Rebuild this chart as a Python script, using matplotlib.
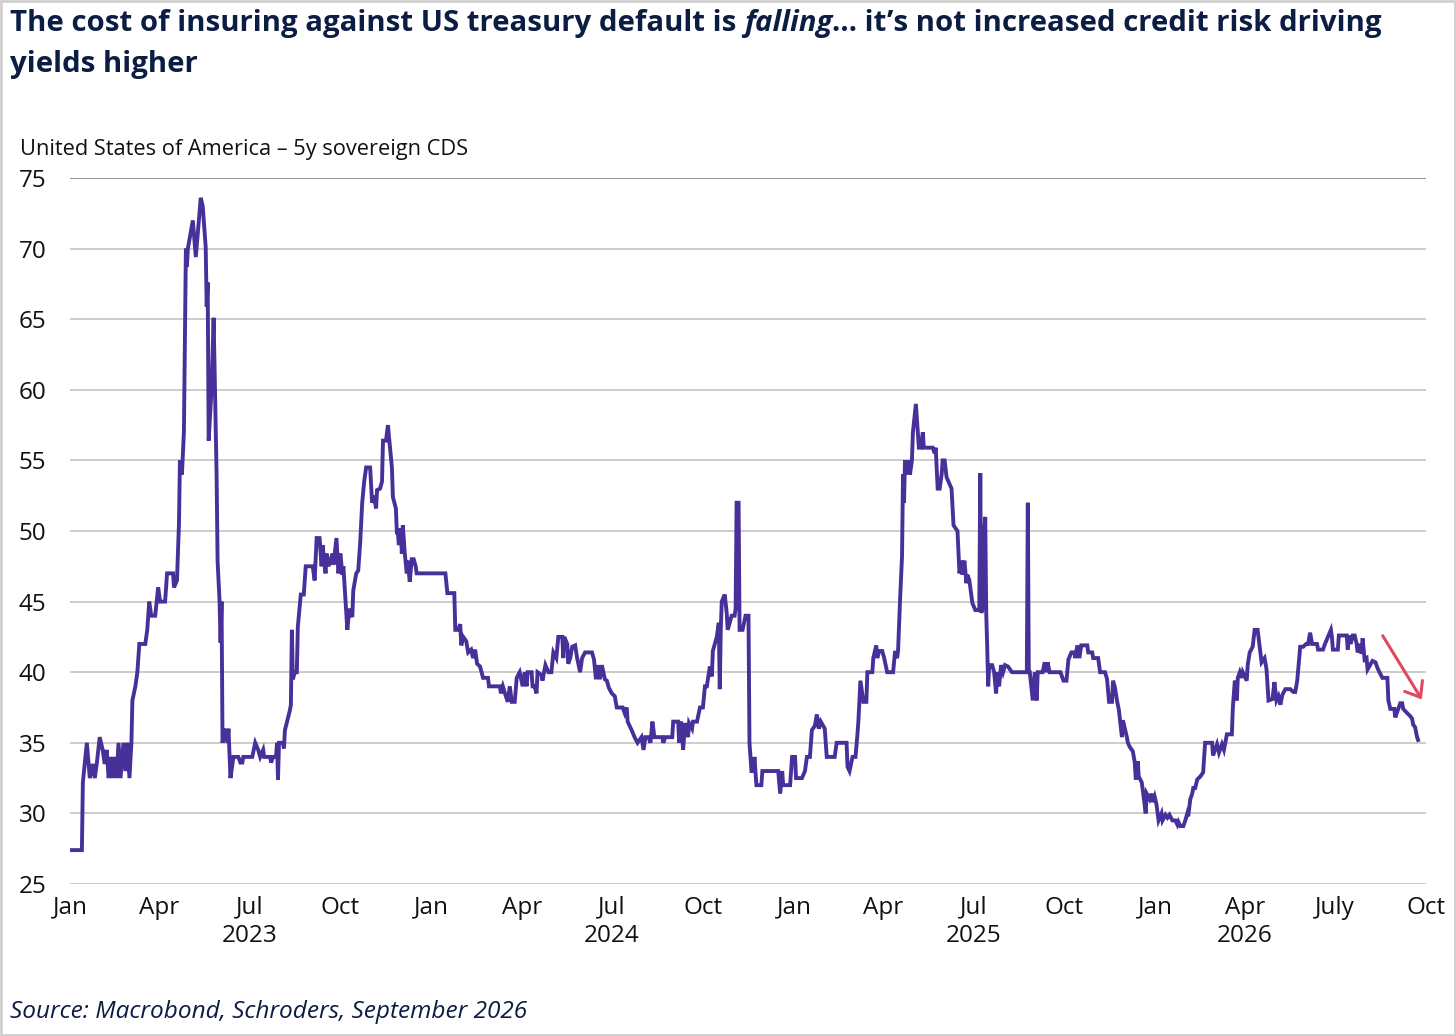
import matplotlib
matplotlib.use("Agg")
import matplotlib.pyplot as plt
import matplotlib.dates as mdates
from matplotlib.patches import Rectangle
import pandas as pd

# ---------------- data ----------------
START_DATE = "2023-01-01"
END_DATE = "2026-10-01"

# days since START_DATE, CDS level (bp)
days_2023 = [0, 12, 13, 17, 20, 23, 25, 27, 30, 33, 35, 37, 39, 41, 43, 45, 47, 49, 51, 54,
             56, 58, 60, 62, 63, 66, 68, 70, 76, 78, 80, 82, 86, 89, 91, 96, 98, 104, 105, 108,
             110, 111, 113, 115, 117, 118, 119, 124, 127, 132, 134, 137, 138, 139, 140, 143, 145, 148, 149, 151,
             152, 153, 154, 156, 159, 160, 162, 165, 170, 172, 174, 175, 184, 187, 190, 192, 195, 196, 202, 203,
             205, 208, 209, 210, 211, 215, 216, 217, 222, 223, 224, 225, 227, 229, 230, 233, 236, 238, 245, 247,
             249, 252, 254, 255, 258, 259, 261, 265, 266, 269, 271, 273, 275, 276, 278, 280, 282, 285, 286, 289,
             291, 293, 295, 297, 299, 303, 305, 307, 309, 310, 313, 315, 316, 319, 321, 322, 325, 326, 329, 330,
             331, 332, 334, 335, 336, 338, 340, 341, 343, 345, 347, 349, 350]
cds_2023 = [27.4, 27.4, 32.2, 35.0, 32.5, 33.5, 32.5, 33.5, 35.4, 34.5, 33.5, 34.5, 32.5, 34.0, 32.5, 34.0, 32.5, 35.0, 32.5, 35.0,
            33.0, 35.0, 32.5, 35.0, 38.0, 39.0, 40.0, 42.0, 42.0, 43.0, 45.0, 44.0, 44.0, 46.0, 45.0, 45.0, 47.0, 47.0, 46.0, 46.5,
            50.5, 55.0, 54.0, 57.0, 70.0, 68.7, 70.0, 72.0, 69.4, 73.6, 73.0, 70.1, 65.9, 67.6, 56.4, 60.2, 65.1, 54.0, 47.9, 45.0,
            42.1, 45.0, 35.0, 36.0, 35.0, 36.0, 32.5, 34.0, 34.0, 33.6, 33.6, 34.0, 34.0, 35.0, 34.5, 34.0, 34.5, 34.0, 34.0, 33.6,
            34.0, 34.0, 35.0, 32.4, 35.0, 35.0, 34.6, 35.9, 37.3, 37.7, 43.0, 39.5, 40.0, 40.0, 43.2, 45.5, 45.5, 47.5, 47.5, 46.5,
            49.5, 49.5, 47.5, 49.0, 47.0, 48.4, 47.5, 48.4, 47.6, 49.5, 47.0, 48.4, 46.9, 47.5, 45.3, 43.0, 44.5, 43.9, 45.8, 47.0,
            47.2, 49.2, 52.0, 53.5, 54.5, 54.5, 52.0, 52.5, 51.6, 52.9, 53.0, 53.5, 56.4, 56.4, 57.5, 56.7, 54.5, 52.4, 51.6, 49.9,
            49.9, 49.0, 50.2, 48.4, 50.4, 48.4, 47.0, 47.9, 46.4, 48.0, 48.0, 47.5, 47.0]

days_2024 = [379, 381, 388, 389, 392, 394, 395, 397, 400, 402, 405, 407, 409, 411, 414, 417, 422, 423, 434, 435,
             437, 440, 442, 444, 446, 449, 451, 454, 457, 459, 461, 462, 466, 467, 469, 471, 472, 476, 477, 480,
             483, 486, 488, 491, 493, 497, 498, 499, 502, 503, 505, 507, 510, 512, 515, 517, 520, 527, 529, 531,
             533, 535, 537, 540, 542, 544, 547, 550, 552, 558, 560, 562, 563, 567, 570, 573, 577, 579, 581, 584,
             586, 588, 590, 598, 599, 601, 608, 609, 614, 615, 617, 619, 621, 624, 625, 628, 629, 633, 636, 639,
             641, 643, 644, 646, 648, 649, 653, 655, 656, 657, 658, 661, 663, 664, 668, 671, 672, 673, 675, 676,
             679, 682, 685, 686, 688, 690, 691, 693, 698, 699, 715, 717, 719, 720, 727, 729]
cds_2024 = [47.0, 45.6, 45.6, 43.0, 43.0, 43.4, 41.9, 42.5, 42.2, 41.4, 41.6, 41.0, 41.6, 40.6, 40.4, 39.6, 39.6, 39.0, 39.0, 38.5,
            39.0, 38.3, 37.9, 39.0, 37.9, 37.9, 39.6, 40.0, 39.0, 40.0, 39.0, 40.0, 40.0, 39.0, 39.0, 38.5, 40.0, 39.8, 39.4, 40.5,
            40.0, 40.0, 41.4, 41.0, 42.5, 42.5, 41.0, 42.5, 42.0, 40.6, 41.0, 41.8, 41.9, 41.0, 40.0, 41.0, 41.4, 41.4, 40.9, 39.5,
            40.5, 39.5, 40.5, 39.5, 39.4, 38.9, 38.5, 38.3, 37.5, 37.5, 37.1, 37.5, 36.5, 35.9, 35.4, 35.0, 35.4, 34.5, 35.4, 35.4,
            35.0, 36.5, 35.4, 35.4, 35.0, 35.4, 35.4, 36.5, 36.5, 35.0, 36.5, 34.5, 36.4, 35.4, 36.4, 36.0, 36.5, 36.5, 37.5, 37.5,
            39.0, 39.0, 39.5, 40.4, 39.7, 41.5, 42.5, 43.5, 38.8, 43.0, 45.0, 45.5, 44.2, 43.0, 44.0, 44.0, 44.5, 52.0, 52.0, 43.0,
            43.0, 44.0, 44.0, 35.0, 33.0, 33.0, 34.0, 32.0, 32.0, 33.0, 33.0, 31.4, 33.0, 32.0, 32.0, 34.0]

days_2025 = [732, 733, 739, 742, 744, 747, 749, 752, 754, 756, 758, 762, 764, 772, 774, 784, 785, 787, 790, 793,
             795, 796, 798, 801, 804, 805, 810, 811, 814, 815, 817, 820, 822, 825, 831, 833, 835, 836, 838, 840,
             841, 842, 843, 845, 847, 848, 850, 851, 854, 856, 857, 859, 861, 862, 871, 873, 874, 876, 878, 880,
             881, 883, 885, 890, 892, 896, 898, 900, 901, 903, 905, 906, 908, 911, 914, 918, 919, 920, 921, 922,
             924, 925, 926, 927, 928, 931, 933, 935, 936, 938, 940, 942, 944, 947, 951, 966, 967, 968, 969, 972,
             974, 976, 977, 982, 984, 986, 987, 989, 1000, 1003, 1006, 1008, 1011, 1014, 1015, 1017, 1019, 1021, 1027, 1028,
             1032, 1033, 1038, 1040, 1045, 1047, 1049, 1052, 1053, 1055, 1057, 1059, 1062, 1063, 1067, 1068, 1070, 1073, 1075, 1076,
             1078, 1079, 1082, 1083, 1086, 1087, 1090, 1092, 1093, 1095]
cds_2025 = [34.0, 32.5, 32.5, 33.0, 34.0, 34.0, 35.9, 36.2, 37.0, 36.0, 36.5, 36.0, 34.0, 34.0, 35.0, 35.0, 33.3, 33.0, 34.0, 34.0,
            35.6, 36.6, 39.4, 37.9, 37.9, 40.0, 40.0, 41.0, 41.9, 41.0, 41.5, 41.5, 41.0, 40.0, 40.0, 41.5, 41.0, 41.5, 45.1, 48.2,
            54.0, 52.0, 55.0, 54.0, 55.0, 54.0, 55.0, 57.0, 59.0, 56.9, 55.9, 55.9, 57.0, 55.9, 55.9, 55.5, 55.9, 53.0, 53.0, 54.0,
            55.0, 55.0, 53.8, 53.0, 50.4, 50.0, 47.0, 47.9, 46.9, 47.9, 46.3, 46.9, 46.5, 44.9, 44.4, 44.4, 54.1, 44.2, 44.4, 49.0,
            51.0, 44.2, 41.8, 39.0, 40.5, 40.5, 40.0, 38.5, 40.0, 39.0, 40.5, 40.0, 40.5, 40.4, 40.0, 40.0, 52.0, 40.0, 40.0, 38.0,
            40.0, 38.0, 40.0, 40.0, 40.7, 40.0, 40.7, 40.0, 40.0, 39.4, 39.4, 40.9, 41.4, 41.4, 41.0, 41.9, 41.0, 41.9, 41.9, 41.4,
            41.4, 41.0, 41.0, 40.0, 40.0, 39.5, 37.9, 37.9, 39.4, 38.9, 38.0, 37.3, 35.4, 36.6, 35.4, 35.0, 34.7, 34.4, 33.6, 32.4,
            33.7, 32.6, 32.2, 31.7, 30.0, 31.4, 31.0, 31.4, 30.8, 31.2]

days_2026 = [1097, 1099, 1102, 1103, 1106, 1108, 1110, 1113, 1116, 1118, 1119, 1121, 1124, 1126, 1128, 1129, 1131, 1133, 1134, 1136,
             1138, 1141, 1144, 1146, 1153, 1154, 1158, 1160, 1163, 1165, 1168, 1173, 1174, 1176, 1178, 1179, 1181, 1183, 1184, 1188,
             1189, 1191, 1194, 1196, 1199, 1203, 1206, 1208, 1210, 1214, 1216, 1218, 1220, 1222, 1224, 1227, 1232, 1235, 1237, 1239,
             1242, 1245, 1248, 1250, 1252, 1254, 1259, 1260, 1265, 1267, 1270, 1273, 1274, 1275, 1280, 1281, 1289, 1290, 1291, 1293,
             1295, 1297, 1299, 1300, 1302, 1304, 1305, 1307, 1309, 1310, 1315, 1318, 1320, 1322, 1325, 1330, 1331, 1333, 1337, 1338,
             1340, 1341, 1343, 1345, 1346, 1350, 1353, 1355, 1356, 1358, 1360, 1361]
cds_2026 = [30.6, 29.5, 30.0, 29.5, 29.9, 29.7, 29.9, 29.5, 29.5, 29.2, 29.4, 29.1, 29.1, 29.5, 30.0, 29.8, 31.0, 31.4, 31.8, 31.8,
            32.4, 32.6, 32.9, 35.0, 35.0, 34.1, 34.9, 34.3, 34.9, 34.5, 35.6, 35.6, 37.5, 39.4, 38.0, 39.6, 40.0, 39.6, 40.0, 39.4,
            40.5, 41.4, 41.8, 43.0, 43.0, 40.7, 41.0, 40.2, 38.0, 38.1, 39.3, 38.0, 38.3, 37.7, 38.4, 38.8, 38.8, 38.6, 38.6, 39.4,
            41.8, 41.8, 42.0, 42.0, 42.8, 42.0, 42.0, 41.6, 41.6, 42.0, 42.5, 43.0, 42.5, 41.6, 41.6, 42.6, 42.6, 41.6, 42.6, 42.0,
            42.6, 42.6, 42.0, 41.4, 42.0, 41.3, 42.4, 40.9, 41.0, 40.2, 40.8, 40.7, 40.3, 40.0, 39.6, 39.6, 38.0, 37.4, 37.4, 36.8,
            37.2, 37.4, 37.8, 37.8, 37.4, 37.1, 36.9, 36.7, 36.3, 36.1, 35.4, 35.2]

tick_dates = ["2023-01-01", "2023-04-01", "2023-07-01", "2023-10-01",
              "2024-01-01", "2024-04-01", "2024-07-01", "2024-10-01",
              "2025-01-01", "2025-04-01", "2025-07-01", "2025-10-01",
              "2026-01-01", "2026-04-01", "2026-07-01", "2026-10-01"]
tick_labels = ["Jan", "Apr", "Jul\n2023", "Oct",
               "Jan", "Apr", "Jul\n2024", "Oct",
               "Jan", "Apr", "Jul\n2025", "Oct",
               "Jan", "Apr\n2026", "July", "Oct"]
y_ticks = [25, 30, 35, 40, 45, 50, 55, 60, 65, 70, 75]

title_part1 = "The cost of insuring against US treasury default is "
title_italic = "falling"
title_part3 = "\u2026 it\u2019s not increased credit risk driving"
title_line2 = "yields higher"
subtitle = "United States of America \u2013 5y sovereign CDS"
source = "Source: Macrobond, Schroders, September 2026"

# ---------------- build series ----------------
all_days = days_2023 + days_2024 + days_2025 + days_2026
all_cds = cds_2023 + cds_2024 + cds_2025 + cds_2026
dates = pd.to_datetime(START_DATE) + pd.to_timedelta(all_days, unit="D")

# ---------------- styling ----------------
plt.rcParams["font.family"] = ["Open Sans", "DejaVu Sans"]
NAVY = "#0b1d42"
PURPLE = "#48309a"
GRID = "#c8c8c8"

fig = plt.figure(figsize=(14.56, 10.36), dpi=100)
fig.patch.set_facecolor("white")
W, H = 1456, 1036

ax = fig.add_axes([70 / W, 1 - 884 / H, (1426 - 70) / W, (884 - 178) / H])
ax.plot(dates, all_cds, color=PURPLE, lw=2.8, solid_joinstyle="miter", zorder=3)

ax.set_xlim(pd.to_datetime(START_DATE), pd.to_datetime(END_DATE))
ax.set_ylim(25, 75)
ax.set_yticks(y_ticks)
ax.set_xticks(pd.to_datetime(tick_dates))
ax.set_xticklabels(tick_labels, linespacing=1.25)
for s in ax.spines.values():
    s.set_visible(False)
ax.tick_params(axis="both", length=0, labelsize=17.5, colors="#111111")
ax.tick_params(axis="x", pad=8.5)
ax.tick_params(axis="y", pad=17)
ax.grid(axis="y", color=GRID, lw=1.3, zorder=0)
ax.grid(axis="x", visible=False)
gl = ax.get_ygridlines()
gl[-1].set_color("#8a8a8a")

# arrow annotation
ax.annotate("", xy=(0.998, 0.258), xytext=(0.967, 0.355),
            xycoords="axes fraction", textcoords="axes fraction",
            arrowprops=dict(arrowstyle="->,head_length=0.32,head_width=0.25",
                            color="#e0485f", lw=2.2, mutation_scale=30))

# titles
renderer = fig.canvas.get_renderer()
TS = 21.2
x0 = 10 / W
ty1 = 1 - 31 / H
t1 = fig.text(x0, ty1, title_part1, fontsize=TS, fontweight="bold", color=NAVY, va="baseline")
bb = t1.get_window_extent(renderer)
t2 = fig.text(bb.x1 / W, ty1, title_italic, fontsize=TS, fontweight="bold", style="italic", color=NAVY, va="baseline")
bb2 = t2.get_window_extent(renderer)
fig.text(bb2.x1 / W, ty1, title_part3, fontsize=TS, fontweight="bold", color=NAVY, va="baseline")
fig.text(x0, 1 - 72 / H, title_line2, fontsize=TS, fontweight="bold", color=NAVY, va="baseline")

fig.text(20 / W, 1 - 155 / H, subtitle, fontsize=15.7, color="#111111", va="baseline")
fig.text(10 / W, 1 - 1018 / H, source, fontsize=17.6, style="italic", color=NAVY, va="baseline")

fig.patches.append(Rectangle((0.0005, 0.0008), 0.999, 0.9985, transform=fig.transFigure,
                             fill=False, edgecolor="#cfcfcf", lw=2))

fig.savefig("out.png", dpi=100, facecolor="white")
